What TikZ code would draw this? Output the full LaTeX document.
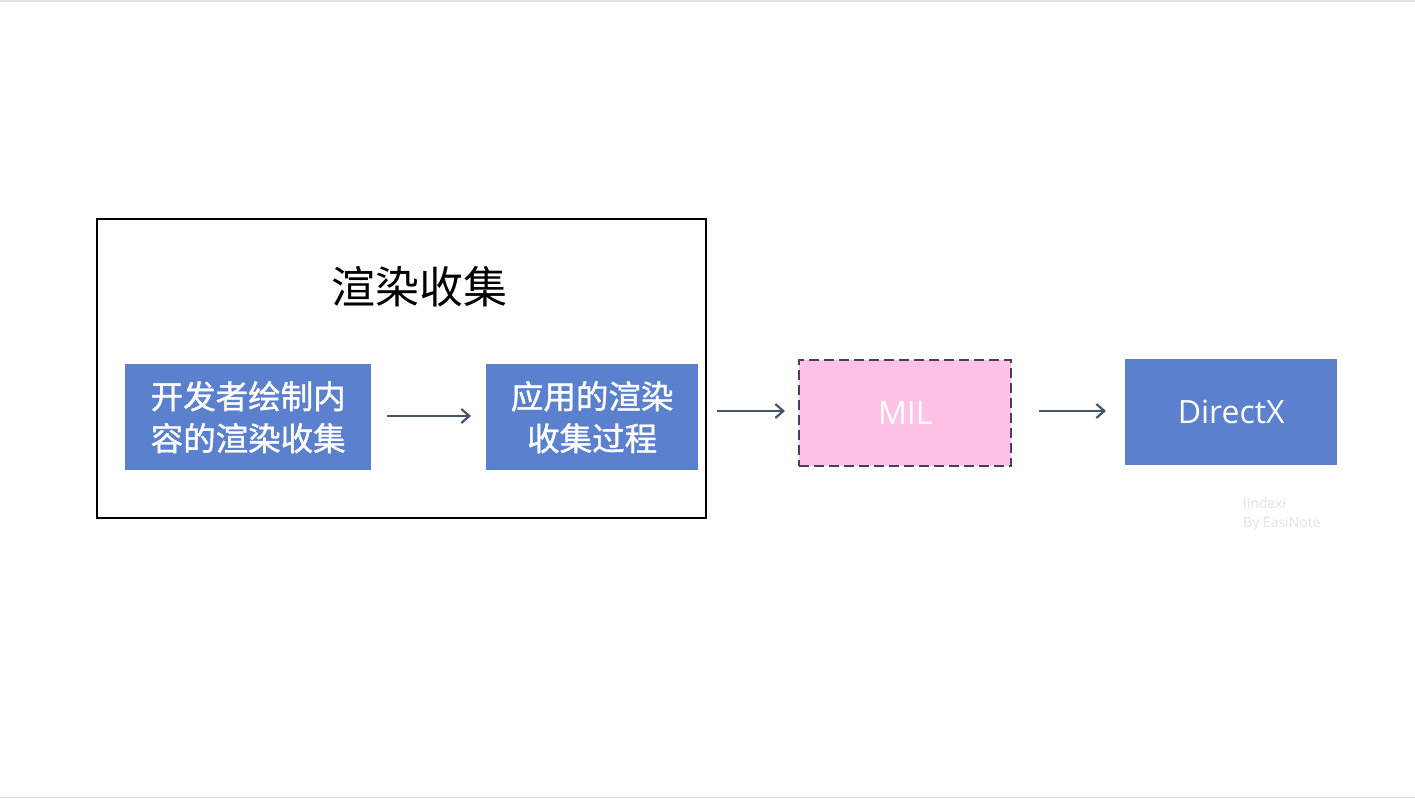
\documentclass[tikz,border=0pt]{standalone}
\usepackage{fontspec}
\setmainfont{Open Sans}
\newfontfamily\cjk[AutoFakeBold=1.2]{Noto Sans CJK SC}
\usetikzlibrary{arrows.meta}
\definecolor{boxblue}{HTML}{5B80CE}
\definecolor{milpink}{HTML}{FFC1E6}
\definecolor{milborder}{HTML}{4A3C68}
\definecolor{arrowgrey}{HTML}{44546A}
\definecolor{marky}{HTML}{E2E2E2}
\tikzset{
  bluebox/.style={fill=boxblue, draw=none, text=white, align=center, inner sep=0pt},
  flow/.style={draw=arrowgrey, line width=2.2pt, -{Straight Barb[length=8pt,width=14pt,line width=2.2pt]}},
}
\begin{document}
\begin{tikzpicture}[x=1pt,y=-1pt]
\useasboundingbox (0,0) rectangle (1415,798);
\fill[white] (0,0) rectangle (1415,798);
\draw[marky, line width=1.5pt] (0,0.75) -- (1415,0.75);
\draw[marky, line width=1.5pt] (0,797.25) -- (1415,797.25);
% outer frame
\node[draw=black, line width=2pt, minimum width=609pt, minimum height=299pt, inner sep=0pt, anchor=north west] (frame) at (96,218) {};
\node[font=\cjk\fontsize{44}{50}\selectfont] (title) at (419,287) {渲染收集};
% boxes
\node[bluebox, minimum width=246pt, minimum height=106pt, anchor=north west, font=\cjk\fontsize{32.5}{42}\selectfont\bfseries] (b1) at (125,364) {开发者绘制内\\容的渲染收集};
\node[bluebox, minimum width=212pt, minimum height=106pt, anchor=north west, font=\cjk\fontsize{32.5}{42}\selectfont\bfseries] (b2) at (486,364) {应用的渲染\\收集过程};
\node[fill=milpink, draw=milborder, line width=2.4pt, dash pattern=on 10pt off 5pt, minimum width=212pt, minimum height=106pt, anchor=north west, inner sep=0pt, text=white, font=\fontsize{32}{36}\selectfont] (mil) at (798,359) {MIL};
\node[bluebox, minimum width=212pt, minimum height=106pt, anchor=north west, font=\fontsize{32}{36}\selectfont] (dx) at (1125,359) {DirectX};
% arrows
\coordinate (a1s) at (387,416);
\coordinate (a1e) at (471,416);
\draw[flow] (a1s) -- (a1e);
\coordinate (a2s) at (717,411);
\draw[flow] (a2s) -- ([xshift=-13pt]mil.west |- a2s);
\coordinate (a3s) at (1039,411);
\draw[flow] (a3s) -- ([xshift=-19pt]dx.west |- a3s);
% watermark
\node[anchor=north west, text=marky, font=\fontsize{14}{19}\selectfont, align=left, inner sep=0pt] (wm) at (1243,498) {lindexi\\By EasiNote};
\end{tikzpicture}
\end{document}
